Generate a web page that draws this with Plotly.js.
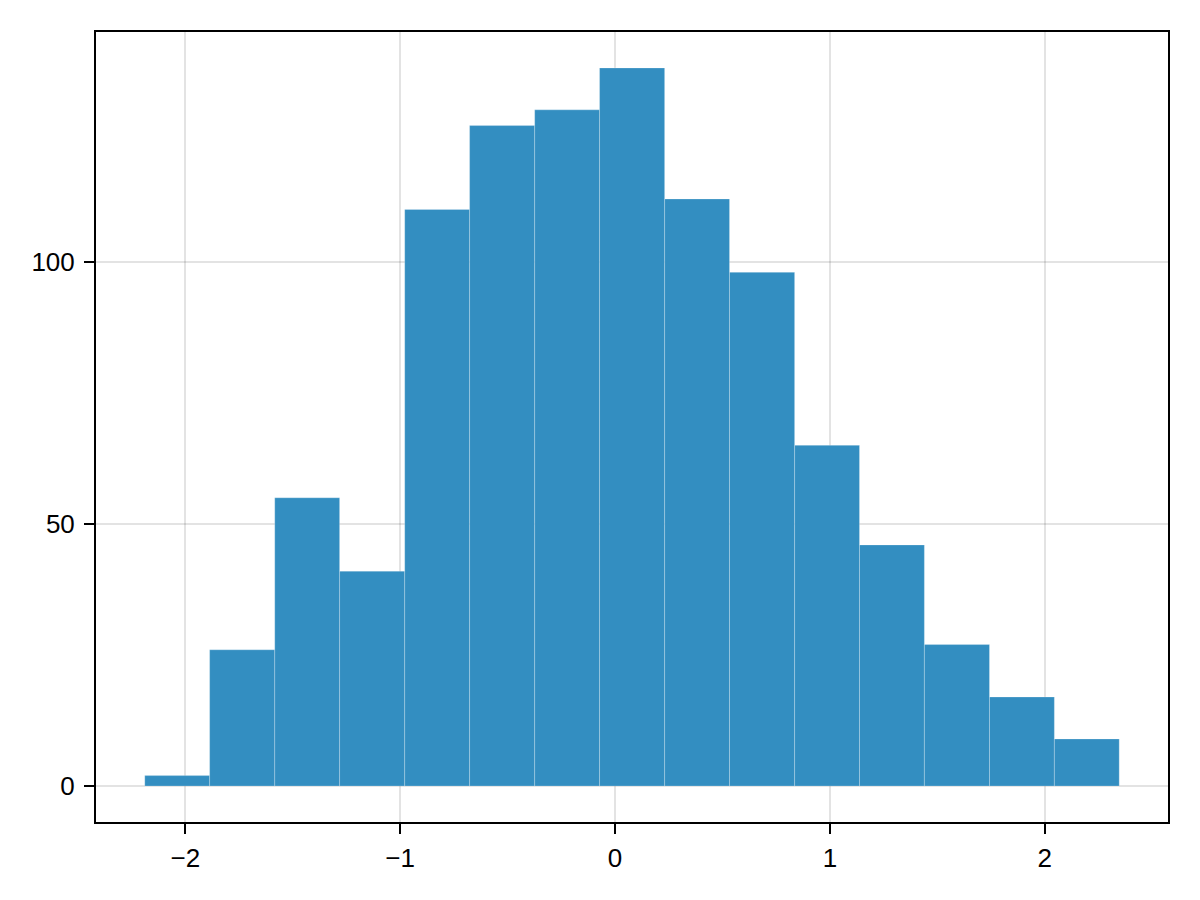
<!DOCTYPE html>
<html>
<head>
<meta charset="utf-8">
<script src="https://cdn.plot.ly/plotly-3.0.1.min.js"></script>
<style>
  html, body { margin: 0; padding: 0; background: #fff; }
  #chart { width: 1200px; height: 900px; }
</style>
</head>
<body>
<div id="chart"></div>
<script>
// bin edges and counts
const binEdges = [-2.189, -1.887, -1.584, -1.282, -0.979, -0.677, -0.374, -0.072,
                  0.231, 0.533, 0.836, 1.138, 1.440, 1.743, 2.045, 2.347];
const counts = [2, 26, 55, 41, 110, 126, 129, 137, 112, 98, 65, 46, 27, 17, 9];
const xTicks = [-2, -1, 0, 1, 2];
const yTicks = [0, 50, 100];

const centers = counts.map((_, i) => (binEdges[i] + binEdges[i + 1]) / 2);
const widths = counts.map((_, i) => binEdges[i + 1] - binEdges[i]);

const trace = {
  type: 'bar',
  x: centers,
  y: counts,
  width: widths,
  marker: {
    color: 'rgb(51,142,193)',
    line: { color: 'rgba(255,255,255,0.3)', width: 0.8 }
  },
  hoverinfo: 'x+y'
};

const axisCommon = {
  showline: true,
  mirror: true,
  linecolor: '#000',
  linewidth: 2,
  showgrid: true,
  gridcolor: 'rgba(0,0,0,0.11)',
  gridwidth: 2,
  zeroline: false,
  ticks: 'outside',
  ticklen: 10,
  tickwidth: 2,
  tickcolor: '#000',
  tickfont: { family: 'Liberation Sans, Arial, sans-serif', size: 26, color: '#000' },
  tickmode: 'array'
};

const layout = {
  width: 1200,
  height: 900,
  margin: { l: 96, r: 32, t: 32, b: 78 },
  paper_bgcolor: '#fff',
  plot_bgcolor: '#fff',
  showlegend: false,
  bargap: 0,
  xaxis: Object.assign({}, axisCommon, {
    range: [-2.416, 2.574],
    tickvals: xTicks,
    ticktext: xTicks.map(v => String(v).replace('-', '\u2212')),
    ticklabelstandoff: 2
  }),
  yaxis: Object.assign({}, axisCommon, {
    range: [-6.85, 143.85],
    tickvals: yTicks,
    ticktext: yTicks.map(String),
    ticklabelstandoff: 4
  })
};

Plotly.newPlot('chart', [trace], layout, { displayModeBar: false, staticPlot: true });
</script>
</body>
</html>
